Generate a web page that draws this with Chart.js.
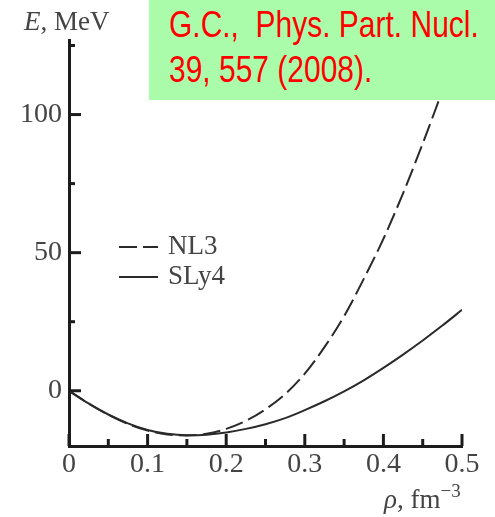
<!DOCTYPE html>
<html>
<head>
<meta charset="utf-8">
<script src="https://cdn.jsdelivr.net/npm/chart.js@4.4.1/dist/chart.umd.min.js"></script>
<style>
html,body{margin:0;padding:0;background:#fff;}
#wrap{position:relative;width:495px;height:517px;overflow:hidden;}
#c{position:absolute;left:0;top:0;}
#note{position:absolute;left:149px;top:0;width:346px;height:100px;background:#aafcab;}
.ln{position:absolute;left:20px;white-space:pre;font-family:"Liberation Sans",Arial,sans-serif;font-size:37px;color:#ff0000;transform:scaleX(0.81);transform-origin:0 0;line-height:45px;}
</style>
</head>
<body>
<div id="wrap">
<canvas id="c" width="495" height="517"></canvas>
<div id="note"><div class="ln" style="top:2px">G.C.,  Phys. Part. Nucl.</div><div class="ln" style="top:47px">39, 557 (2008).</div></div>
</div>
<script>
// ---- data ----
const rho   = [0,0.025,0.05,0.075,0.1,0.125,0.15,0.175,0.2,0.225,0.25,0.275,0.3,0.325,0.35,0.375,0.4,0.425,0.45,0.475,0.5];
const eNL3  = [0,-4.7,-8.7,-12.0,-14.4,-15.8,-16.2,-15.6,-13.8,-10.9,-6.7,-1.2,6.2,15.8,27.0,40.5,55.0,71.5,89.5,108.5,127];
const eSLy4 = [0,-4.6,-8.6,-11.8,-14.2,-15.6,-16.1,-15.9,-15.1,-13.8,-12.1,-9.9,-7.0,-3.8,-0.2,3.8,8.3,13.1,18.2,23.6,29.3];
const seriesNames = ['NL3','SLy4'];
const xMajor  = [0,0.1,0.2,0.3,0.4,0.5];
const xLabels = ['0','0.1','0.2','0.3','0.4','0.5'];
const xMinor  = [0.05,0.15,0.25,0.35,0.45];
const yMajor  = [0,50,100];
const yLabels = ['0','50','100'];
const yMinor  = [25,75,125];

const INK = '#1c1c1c';
const TXT = '#444';
const SERIF = '"Liberation Serif","Times New Roman",serif';

const deco = {
  id:'deco',
  afterDraw(chart){
    const ctx = chart.ctx, xs = chart.scales.x, ys = chart.scales.y, a = chart.chartArea;
    ctx.save();
    ctx.strokeStyle = INK; ctx.lineWidth = 3; ctx.lineCap = 'butt';
    const seg = (x1,y1,x2,y2)=>{ctx.beginPath();ctx.moveTo(x1,y1);ctx.lineTo(x2,y2);ctx.stroke();};
    xMajor.forEach(v=>{const p=xs.getPixelForValue(v); seg(p,a.bottom,p,a.bottom-12);});
    xMinor.forEach(v=>{const p=xs.getPixelForValue(v); seg(p,a.bottom,p,a.bottom-7);});
    yMajor.forEach(v=>{const p=ys.getPixelForValue(v); seg(a.left,p,a.left+12,p);});
    yMinor.forEach(v=>{const p=ys.getPixelForValue(v); seg(a.left,p,a.left+6,p);});
    // legend
    chart.data.datasets.forEach((ds,i)=>{
      const ly = 247 + i*30;
      ctx.setLineDash(ds.borderDash||[]);
      ctx.lineWidth = ds.borderWidth; ctx.strokeStyle = ds.borderColor;
      seg(119,ly,158,ly);
      ctx.setLineDash([]);
      ctx.fillStyle = TXT; ctx.font = '27px '+SERIF; ctx.textBaseline='alphabetic'; ctx.textAlign='left';
      ctx.fillText(ds.label,168,ly+7);
    });
    // axis titles
    ctx.fillStyle = TXT; ctx.textBaseline='alphabetic'; ctx.textAlign='left';
    ctx.font = 'italic 27px '+SERIF;
    ctx.fillText('E',24,30);
    let w = ctx.measureText('E').width;
    ctx.font = '27px '+SERIF;
    ctx.fillText(', MeV',24+w,30);
    ctx.font = 'italic 27px '+SERIF;
    ctx.fillText('\u03C1',384,508);
    w = ctx.measureText('\u03C1').width;
    ctx.font = '27px '+SERIF;
    ctx.fillText(', fm',384+w,508);
    const w2 = ctx.measureText(', fm').width;
    ctx.font = '19px '+SERIF;
    ctx.fillText('\u22123',384+w+w2,497);
    ctx.restore();
  }
};

new Chart(document.getElementById('c'),{
  type:'line',
  data:{datasets:[
    {label:seriesNames[0], data:rho.map((x,i)=>({x:x,y:eNL3[i]})), borderColor:'#2a2a2a', borderWidth:2, borderDash:[18,6], cubicInterpolationMode:'monotone', pointRadius:0, fill:false},
    {label:seriesNames[1], data:rho.map((x,i)=>({x:x,y:eSLy4[i]})), borderColor:'#2a2a2a', borderWidth:2, cubicInterpolationMode:'monotone', pointRadius:0, fill:false}
  ]},
  options:{
    responsive:false, animation:false, devicePixelRatio:1,
    layout:{padding:{top:40,right:33,left:0,bottom:0}},
    plugins:{legend:{display:false},tooltip:{enabled:false}},
    scales:{
      x:{type:'linear',min:0,max:0.5,
         grid:{display:false,drawTicks:false},
         border:{display:true,width:3,color:INK},
         afterBuildTicks:s=>{s.ticks=xMajor.map(v=>({value:v}));},
         ticks:{callback:v=>{const i=xMajor.indexOf(v);return i>=0?xLabels[i]:'';},
                font:{family:SERIF,size:28},color:TXT,padding:2,maxRotation:0,autoSkip:false},
         afterFit:s=>{s.height=71;}},
      y:{type:'linear',min:-20,max:127,
         grid:{display:false,drawTicks:false},
         border:{display:true,width:3,color:INK},
         afterBuildTicks:s=>{s.ticks=yMajor.map(v=>({value:v}));},
         ticks:{callback:v=>{const i=yMajor.indexOf(v);return i>=0?yLabels[i]:'';},
                font:{family:SERIF,size:28},color:TXT,padding:7,autoSkip:false},
         afterFit:s=>{s.width=69;}}
    }
  },
  plugins:[deco]
});
</script>
</body>
</html>
